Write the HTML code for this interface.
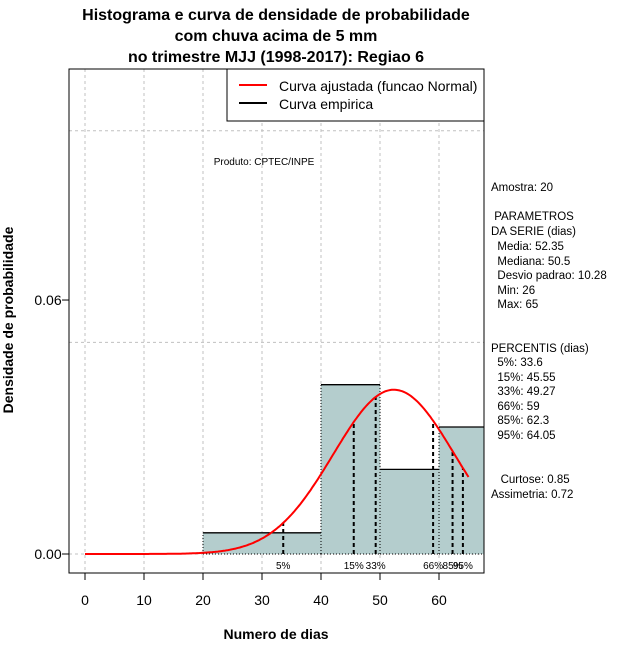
<!DOCTYPE html>
<html><head><meta charset="utf-8"><style>
body{margin:0;background:#fff;font-family:"Liberation Sans",sans-serif}
svg text{font-family:"Liberation Sans",sans-serif}
</style></head><body>
<svg width="640" height="660" xmlns="http://www.w3.org/2000/svg">
<g id="root"></g>
</svg>
<script>
const binEdges=[20,40,50,60,70];
const binDensity=[0.005,0.04,0.02,0.03];
const xTicks=[0,10,20,30,40,50,60];
const yTicks=[0,0.06];
const gridY=[0,0.05,0.1];
const pctVals=[33.6,45.55,49.27,59,62.3,64.05];
const pctLabels=["5%","15%","33%","66%","85%","95%"];
const mean=52.35, sd=10.28, curveMin=0, curveMax=65;
const statLines=[["Amostra: 20",191],[" PARAMETROS",220],["DA SERIE (dias)",235],["  Media: 52.35",250],["  Mediana: 50.5",265],["  Desvio padrao: 10.28",279],["  Min: 26",294],["  Max: 65",308],["PERCENTIS (dias)",352],["  5%: 33.6",366],["  15%: 45.55",381],["  33%: 49.27",395],["  66%: 59",410],["  85%: 62.3",424],["  95%: 64.05",439],["   Curtose: 0.85",483],["Assimetria: 0.72",498]];

const L=69,R=484,T=69,B=573;
const X=v=>85+(v-0)*5.9;
const Y=v=>554-v*4233;
const NS="http://www.w3.org/2000/svg";
const root=document.getElementById('root');
function mk(tag,attrs,parent){const e=document.createElementNS(NS,tag);for(const k in attrs)e.setAttribute(k,attrs[k]);(parent||root).appendChild(e);return e;}
function txt(s,x,y,attrs){const e=mk('text',Object.assign({x:x,y:y},attrs||{}));e.textContent=s;return e;}
const npdf=x=>Math.exp(-0.5*((x-mean)/sd)**2)/(sd*Math.sqrt(2*Math.PI));

const clip=mk('clipPath',{id:'pc'});mk('rect',{x:L,y:T,width:R-L,height:B-T},clip);
const plot=mk('g',{'clip-path':'url(#pc)'});
// grid
xTicks.forEach(v=>{const g=mk('line',{x1:X(v),x2:X(v),y1:T,y2:B,stroke:'#c0c0c0','stroke-dasharray':'3,3'},plot);

});
gridY.forEach(v=>{const g=mk('line',{x1:L,x2:R,y1:Y(v),y2:Y(v),stroke:'#c0c0c0','stroke-dasharray':'3,3'},plot);

});
// bars
binDensity.forEach((d,i)=>{const x0=X(binEdges[i]),x1=X(binEdges[i+1]),y=Y(d);
const r=mk('rect',{x:x0,y:y,width:x1-x0,height:Y(0)-y,fill:'#b4cdcd'},plot);


mk('line',{x1:x0,x2:x1,y1:y,y2:y,stroke:'#000','stroke-width':1.3},plot);
mk('path',{d:`M${x0},${Y(0)}V${y}M${x1},${Y(0)}V${y}M${x0},${Y(0)}H${x1}`,stroke:'#000',fill:'none','stroke-dasharray':'1,2'},plot);});
// percentile lines
pctVals.forEach((v,i)=>{const l=mk('line',{x1:X(v),x2:X(v),y1:Y(0),y2:Y(npdf(v)),stroke:'#000','stroke-width':2,'stroke-dasharray':'4,3'},plot);


const t=txt(pctLabels[i],X(v),569,{'font-size':10,'text-anchor':'middle'});

});
// curve
let d='';for(let x=curveMin;x<=curveMax+1e-9;x+=0.25){d+=(d?'L':'M')+X(x).toFixed(1)+','+Y(npdf(x)).toFixed(1);}
const c=mk('path',{d:d,stroke:'#f00','stroke-width':2,fill:'none'},plot);


// box
mk('rect',{x:L,y:T,width:R-L,height:B-T,fill:'none',stroke:'#000'});
// x axis
mk('line',{x1:X(0),x2:X(60),y1:B,y2:B,stroke:'#000'});
xTicks.forEach(v=>{mk('line',{x1:X(v),x2:X(v),y1:B,y2:B+7,stroke:'#000'});
const t=txt(v,X(v),605,{'font-size':14,'text-anchor':'middle'});

});
yTicks.forEach(v=>{mk('line',{x1:L-7,x2:L,y1:Y(v),y2:Y(v),stroke:'#000'});
const t=txt(v.toFixed(2),48,Y(v)+5,{'font-size':14,'text-anchor':'middle'});

});
mk('line',{x1:L,x2:L,y1:Y(0),y2:Y(0.06),stroke:'#000'});
const xt=txt('Numero de dias',276,639,{'font-size':14,'font-weight':'bold','text-anchor':'middle'});


const yt=txt('Densidade de probabilidade',0,0,{'font-size':14,'font-weight':'bold','text-anchor':'middle',transform:'translate(13,320) rotate(-90)'});


// title
[["Histograma e curva de densidade de probabilidade",20],["com chuva acima de 5 mm",41],["no trimestre MJJ (1998-2017): Regiao 6",62]].forEach(a=>{
const t=txt(a[0],276,a[1],{'font-size':16,'font-weight':'bold','text-anchor':'middle'});

});
// legend
const lg=mk('g',{});


mk('rect',{x:227,y:69,width:257,height:52,fill:'#fff',stroke:'#000'},lg);
mk('line',{x1:239,x2:267,y1:85,y2:85,stroke:'#f00','stroke-width':2},lg);
mk('line',{x1:239,x2:267,y1:103,y2:103,stroke:'#000','stroke-width':2},lg);
txt('Curva ajustada (funcao Normal)',279,91,{'font-size':14}).parentNode;
txt('Curva empirica',279,109,{'font-size':14});
const pr=txt('Produto: CPTEC/INPE',264,165,{'font-size':10,'text-anchor':'middle'});


statLines.forEach(s=>{const t=txt(s[0],491,s[1],{'font-size':11.5,'xml:space':'preserve'});t.style.whiteSpace='pre';

});
</script>
</body></html>
